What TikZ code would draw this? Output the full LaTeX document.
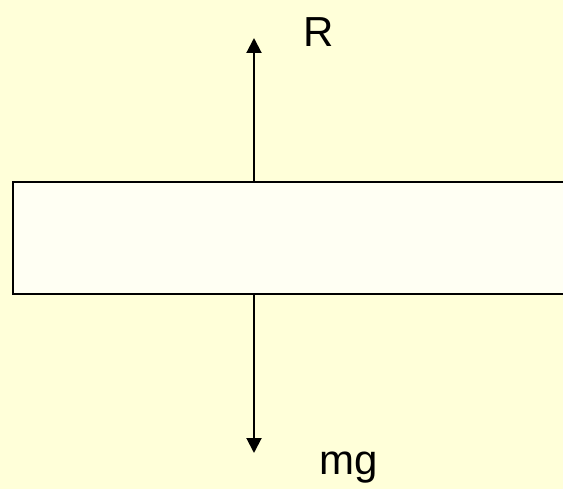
\documentclass[tikz,border=0pt]{standalone}
\usepackage{fontspec}
\setmainfont{Liberation Sans}
\usetikzlibrary{arrows.meta}
\definecolor{bgyellow}{HTML}{FFFFD9}
\definecolor{slabfill}{HTML}{FFFFF3}
\begin{document}
\begin{tikzpicture}[x=1pt, y=-1pt, >={Triangle[length=15pt, width=15pt]},
  force/.style={->, line width=2pt},
  lbl/.style={inner sep=0pt, anchor=base west, font=\fontsize{42}{50}\selectfont}]
  % Hintergrund
  \useasboundingbox (0,0) rectangle (563,489);
  \fill[bgyellow] (0,0) rectangle (563,489);
  \clip (0,0) rectangle (563,489);

  % Platte
  \draw[fill=slabfill, line width=2.5pt] (13,182) rectangle (575,294);
  \coordinate (top) at (254,182);
  \coordinate (bottom) at (254,294);

  % Kraefte
  \coordinate (Rtip) at (254,38);
  \coordinate (Gtip) at (254,453);
  \draw[force] (top) -- (Rtip);
  \draw[force] (bottom) -- (Gtip);
  \node[lbl] (R) at (303,47) {R};
  \node[lbl] (mg) at (319,475) {mg};
\end{tikzpicture}
\end{document}
